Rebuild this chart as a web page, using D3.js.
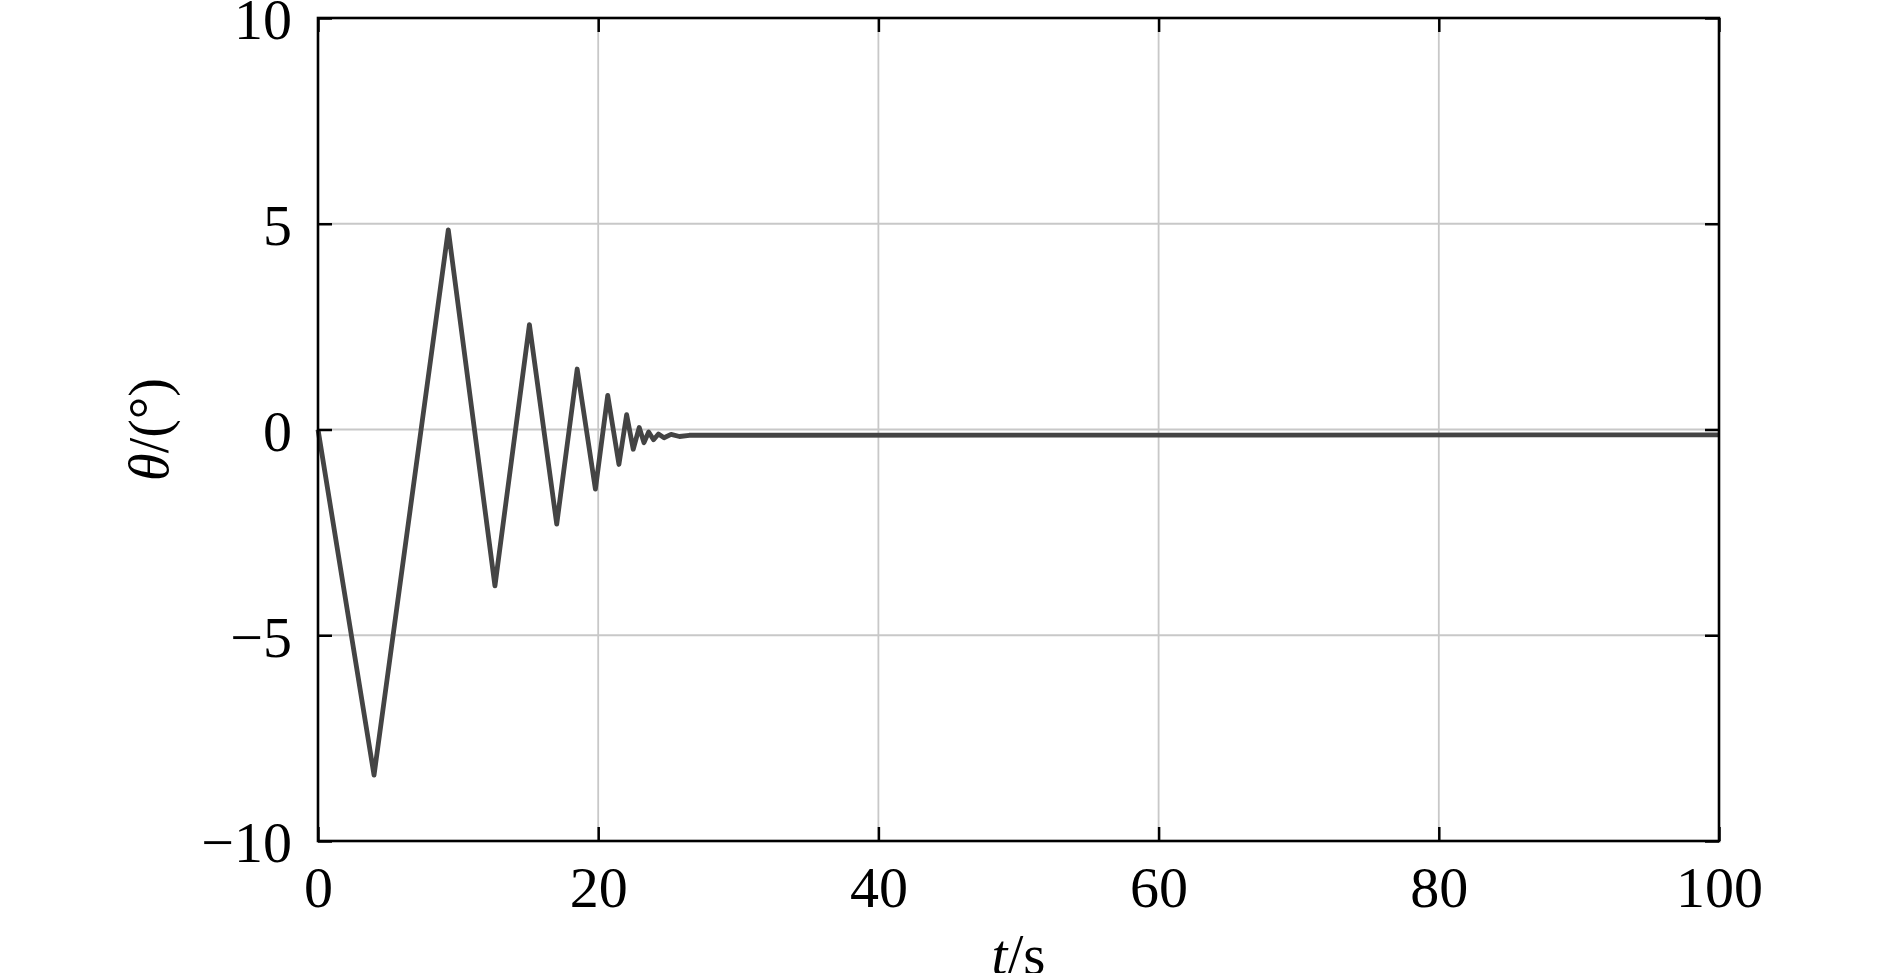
<!DOCTYPE html>
<html>
<head>
<meta charset="utf-8">
<script src="https://cdn.jsdelivr.net/npm/d3@7"></script>
<style>
  html, body { margin: 0; padding: 0; background: #fff; }
  svg { display: block; }
  text { font-family: "Liberation Serif", "Times New Roman", serif; fill: #000; }
</style>
</head>
<body>
<svg id="chart" width="1890" height="973"></svg>
<script>
// ---- data ----
const timeS = [0, 4.0, 9.3, 12.63, 15.09, 17.04, 18.5, 19.8, 20.68, 21.48, 22.03, 22.5, 22.93, 23.27, 23.6, 23.95, 24.3, 24.7, 25.2, 25.8, 26.5, 100];
const thetaDeg = [0, -8.4, 4.85, -3.8, 2.55, -2.3, 1.47, -1.45, 0.83, -0.85, 0.36, -0.48, 0.05, -0.32, -0.06, -0.25, -0.11, -0.2, -0.12, -0.17, -0.14, -0.13];
const xTicks = [0, 20, 40, 60, 80, 100];
const yTicks = [-10, -5, 0, 5, 10];
const xDomain = [0, 100];
const yDomain = [-10, 10];

// ---- layout ----
const mLeft = 318, mRight = 1719, mTop = 18, mBottom = 841;
const W = mRight - mLeft, H = mBottom - mTop;
const fontSize = 58;

const svg = d3.select("#chart");
const g = svg.append("g").attr("transform", `translate(${mLeft},${mTop})`);

const x = d3.scaleLinear().domain(xDomain).range([0, W]);
const y = d3.scaleLinear().domain(yDomain).range([H, 0]);

// grid
g.append("g").selectAll("line")
  .data(xTicks.filter(d => d > xDomain[0] && d < xDomain[1]))
  .join("line")
  .attr("x1", d => x(d)).attr("x2", d => x(d))
  .attr("y1", 0).attr("y2", H)
  .attr("stroke", "#c8c8c8").attr("stroke-width", 1.8);
g.append("g").selectAll("line")
  .data(yTicks.filter(d => d > yDomain[0] && d < yDomain[1]))
  .join("line")
  .attr("x1", 0).attr("x2", W)
  .attr("y1", d => y(d)).attr("y2", d => y(d))
  .attr("stroke", "#c8c8c8").attr("stroke-width", 1.8);

// data line
const line = d3.line().x((d, i) => x(timeS[i])).y(d => y(d));
g.append("path")
  .datum(thetaDeg)
  .attr("d", line)
  .attr("fill", "none")
  .attr("stroke", "#444444")
  .attr("stroke-width", 4.8)
  .attr("stroke-linejoin", "round");

// axes (inward ticks on all sides)
const tickLen = 14;
const fmt = d3.format("d");
const xAxis = g.append("g").attr("transform", `translate(0,${H})`)
  .call(d3.axisBottom(x).tickValues(xTicks).tickFormat(fmt).tickSizeInner(-tickLen).tickSizeOuter(0));
const yAxis = g.append("g")
  .call(d3.axisLeft(y).tickValues(yTicks).tickFormat(fmt).tickSizeInner(-tickLen).tickSizeOuter(0));
const xTop = g.append("g")
  .call(d3.axisTop(x).tickValues(xTicks).tickFormat("").tickSizeInner(-tickLen).tickSizeOuter(0));
const yRight = g.append("g").attr("transform", `translate(${W},0)`)
  .call(d3.axisRight(y).tickValues(yTicks).tickFormat("").tickSizeInner(-tickLen).tickSizeOuter(0));

[xAxis, yAxis, xTop, yRight].forEach(a => {
  a.select(".domain").remove();
  a.selectAll(".tick line").attr("stroke", "#000").attr("stroke-width", 2.5);
});

xAxis.selectAll(".tick text")
  .attr("y", 66).attr("dy", 0)
  .style("font-size", fontSize + "px")
  .style("font-family", '"Liberation Serif", serif')
  .attr("fill", "#000");
yAxis.selectAll(".tick text")
  .attr("x", -26).attr("dy", "0.36em")
  .style("font-size", fontSize + "px")
  .style("font-family", '"Liberation Serif", serif')
  .attr("fill", "#000");

// frame
g.append("rect")
  .attr("x", 0).attr("y", 0).attr("width", W).attr("height", H)
  .attr("fill", "none").attr("stroke", "#000").attr("stroke-width", 2.6);

// axis titles
const xl = svg.append("text")
  .attr("x", mLeft + W / 2).attr("y", 974)
  .attr("text-anchor", "middle")
  .style("font-size", "57px");
xl.append("tspan").style("font-style", "italic").text("t");
xl.append("tspan").text("/s");

const yl = svg.append("text")
  .attr("transform", `translate(168,${mTop + H / 2}) rotate(-90)`)
  .attr("text-anchor", "middle")
  .style("font-size", "56px");
yl.append("tspan").style("font-style", "italic").text("θ");
yl.append("tspan").text("/(°)");
</script>
</body>
</html>
